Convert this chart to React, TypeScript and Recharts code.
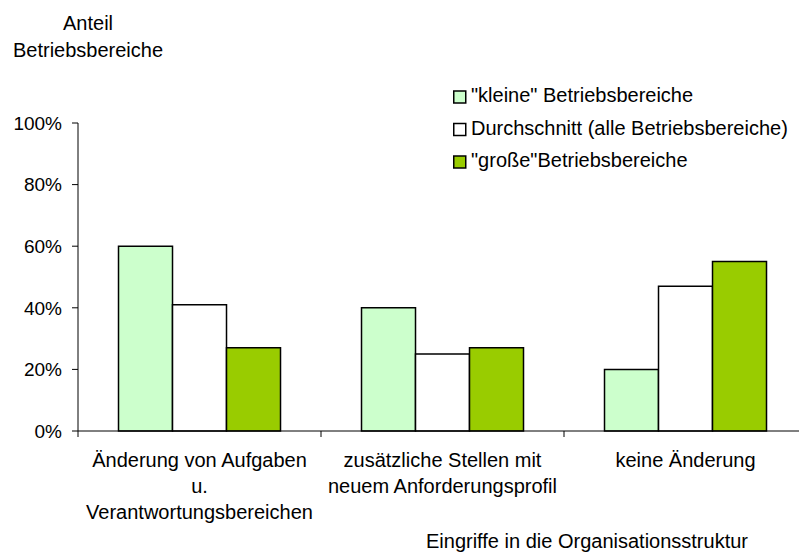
import React from 'react';
import { BarChart, Bar, XAxis, YAxis, Legend } from 'recharts';

const categories = [
  'Änderung von Aufgaben\nu.\nVerantwortungsbereichen',
  'zusätzliche Stellen mit\nneuem Anforderungsprofil',
  'keine Änderung',
];
const kleine = [60, 40, 20];
const durchschnitt = [41, 25, 47];
const grosse = [27, 27, 55];
const yTicks = [0, 20, 40, 60, 80, 100];

const seriesNames = ['"kleine" Betriebsbereiche', 'Durchschnitt (alle Betriebsbereiche)', '"große"Betriebsbereiche'];
const seriesColors = ['#ccffcc', '#ffffff', '#99cc00'];

const FONT = '"Liberation Sans", Arial, sans-serif';

const data = categories.map((c, i) => ({
  name: c,
  kleine: kleine[i],
  durchschnitt: durchschnitt[i],
  grosse: grosse[i],
}));

const CategoryTick = (props: any) => {
  const { x, y, payload, index, visibleTicksCount } = props;
  const lines = String(payload.value).split('\n');
  const half = payload.offset ?? 0;
  return (
    <g>
      <line x1={x - half} x2={x - half} y1={y} y2={y + 6} stroke="#000" />
      {index === visibleTicksCount - 1 && (
        <line x1={x + half} x2={x + half} y1={y} y2={y + 6} stroke="#000" />
      )}
      <text x={x} y={y + 36} textAnchor="middle" fill="#000" fontSize={20} fontFamily={FONT}>
        {lines.map((l, i) => (
          <tspan key={i} x={x} dy={i === 0 ? 0 : 26}>
            {l}
          </tspan>
        ))}
      </text>
    </g>
  );
};

const YTitle = () => (
  <g fontSize={20} fontFamily={FONT} fill="#000">
    <text x={88} y={30} textAnchor="middle">Anteil</text>
    <text x={88} y={57} textAnchor="middle">Betriebsbereiche</text>
  </g>
);

const XTitle = () => (
  <text x={748} y={548} textAnchor="end" fontSize={20} fontFamily={FONT} fill="#000">
    Eingriffe in die Organisationsstruktur
  </text>
);

// legend drawn in series order (recharts would sort it by name)
const LegendBox = () => (
  <svg width={346} height={100}>
    {seriesNames.map((name, i) => (
      <g key={name}>
        <rect x={0.75} y={7 + i * 32.5} width={12} height={12} fill={seriesColors[i]} stroke="#000" strokeWidth={1.5} />
        <text x={18} y={18 + i * 32.5} fontSize={20} fontFamily={FONT} fill="#000">
          {name}
        </text>
      </g>
    ))}
  </svg>
);

export default function App() {
  return (
    <div style={{ position: 'absolute', left: 0, top: 0, width: 799, height: 552, overflow: 'hidden', background: '#fff' }}>
      <BarChart
        width={808}
        height={552}
        data={data}
        margin={{ top: 123, right: 1, left: 0, bottom: 0 }}
        barCategoryGap="16.67%"
        barGap={0}
      >
        <XAxis
          dataKey="name"
          height={121}
          interval={0}
          tickLine={false}
          tickSize={0}
          tickMargin={0}
          tick={<CategoryTick />}
          axisLine={{ stroke: '#000' }}
          label={<XTitle />}
        />
        <YAxis
          width={78}
          domain={[0, 100]}
          ticks={yTicks}
          tickFormatter={(v) => `${v}%`}
          tickSize={6}
          tickMargin={10}
          tick={{ fill: '#000', fontSize: 19, fontFamily: FONT }}
          tickLine={{ stroke: '#000' }}
          axisLine={{ stroke: '#000' }}
          label={<YTitle />}
        />
        <Legend
          layout="horizontal"
          verticalAlign="middle"
          align="center"
          wrapperStyle={{ left: 453, top: 84, width: 346 }}
          content={<LegendBox />}
        />
        <Bar dataKey="kleine" name={seriesNames[0]} fill={seriesColors[0]} stroke="#000" strokeWidth={1.5} isAnimationActive={false} />
        <Bar dataKey="durchschnitt" name={seriesNames[1]} fill={seriesColors[1]} stroke="#000" strokeWidth={1.5} isAnimationActive={false} />
        <Bar dataKey="grosse" name={seriesNames[2]} fill={seriesColors[2]} stroke="#000" strokeWidth={1.5} isAnimationActive={false} />
      </BarChart>
    </div>
  );
}
